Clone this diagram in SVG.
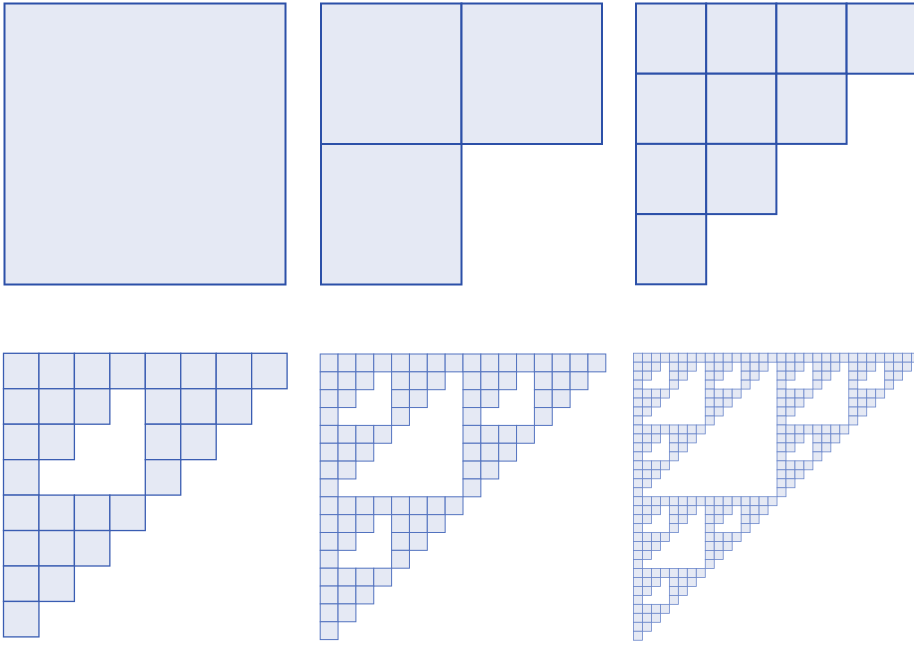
<svg xmlns="http://www.w3.org/2000/svg" xmlns:xlink="http://www.w3.org/1999/xlink" width="914" height="646" viewBox="0 0 914 646">
<style>
rect{fill:#e5e9f4;}
.a{stroke:#2c50a8;stroke-width:2;}
.b{stroke:#3a5db2;stroke-width:1.3;}
.c{stroke:#5272bf;stroke-width:1;}
.d{stroke:#6a86ca;stroke-width:0.8;}
</style>
<defs>
<g id="s4">
<rect x="0" y="0" width="35.45" height="35.45"/><rect x="35.45" y="0" width="35.45" height="35.45"/><rect x="70.9" y="0" width="35.45" height="35.45"/><rect x="106.35" y="0" width="35.45" height="35.45"/>
<rect x="0" y="35.45" width="35.45" height="35.45"/><rect x="35.45" y="35.45" width="35.45" height="35.45"/><rect x="70.9" y="35.45" width="35.45" height="35.45"/>
<rect x="0" y="70.9" width="35.45" height="35.45"/><rect x="35.45" y="70.9" width="35.45" height="35.45"/>
<rect x="0" y="106.35" width="35.45" height="35.45"/>
</g>
<g id="s5">
<rect x="0" y="0" width="17.85" height="17.85"/><rect x="17.85" y="0" width="17.85" height="17.85"/><rect x="35.7" y="0" width="17.85" height="17.85"/><rect x="53.55" y="0" width="17.85" height="17.85"/>
<rect x="0" y="17.85" width="17.85" height="17.85"/><rect x="17.85" y="17.85" width="17.85" height="17.85"/><rect x="35.7" y="17.85" width="17.85" height="17.85"/>
<rect x="0" y="35.7" width="17.85" height="17.85"/><rect x="17.85" y="35.7" width="17.85" height="17.85"/>
<rect x="0" y="53.55" width="17.85" height="17.85"/>
</g>
<g id="l5">
<use xlink:href="#s5"/><use xlink:href="#s5" x="71.4"/><use xlink:href="#s5" y="71.4"/>
</g>
<g id="s6">
<rect x="0" y="0" width="8.97" height="8.97"/><rect x="8.97" y="0" width="8.97" height="8.97"/><rect x="17.94" y="0" width="8.97" height="8.97"/><rect x="26.91" y="0" width="8.97" height="8.97"/>
<rect x="0" y="8.97" width="8.97" height="8.97"/><rect x="8.97" y="8.97" width="8.97" height="8.97"/><rect x="17.94" y="8.97" width="8.97" height="8.97"/>
<rect x="0" y="17.94" width="8.97" height="8.97"/><rect x="8.97" y="17.94" width="8.97" height="8.97"/>
<rect x="0" y="26.91" width="8.97" height="8.97"/>
</g>
<g id="l6a">
<use xlink:href="#s6"/><use xlink:href="#s6" x="35.88"/><use xlink:href="#s6" y="35.88"/>
</g>
<g id="l6b">
<use xlink:href="#l6a"/><use xlink:href="#l6a" x="71.76"/><use xlink:href="#l6a" y="71.76"/>
</g>
</defs>
<g id="panel1" class="a">
<rect x="4.5" y="3.5" width="281" height="281"/>
</g>
<g id="panel2" class="a">
<rect x="321" y="3.5" width="140.5" height="140.5"/>
<rect x="461.5" y="3.5" width="140.5" height="140.5"/>
<rect x="321" y="144" width="140.5" height="140.5"/>
</g>
<g id="panel3" class="a">
<rect x="636" y="3.5" width="70.2" height="70.2"/><rect x="706.2" y="3.5" width="70.2" height="70.2"/><rect x="776.4" y="3.5" width="70.2" height="70.2"/><rect x="846.6" y="3.5" width="70.2" height="70.2"/>
<rect x="636" y="73.7" width="70.2" height="70.2"/><rect x="706.2" y="73.7" width="70.2" height="70.2"/><rect x="776.4" y="73.7" width="70.2" height="70.2"/>
<rect x="636" y="143.9" width="70.2" height="70.2"/><rect x="706.2" y="143.9" width="70.2" height="70.2"/>
<rect x="636" y="214.1" width="70.2" height="70.2"/>
</g>
<g id="panel4" class="b" transform="translate(3.5,353.3)">
<use xlink:href="#s4"/><use xlink:href="#s4" x="141.8"/><use xlink:href="#s4" y="141.8"/>
</g>
<g id="panel5" class="c" transform="translate(320.2,354)">
<use xlink:href="#l5"/><use xlink:href="#l5" x="142.8"/><use xlink:href="#l5" y="142.8"/>
</g>
<g id="panel6" class="d" transform="translate(633.5,353.2)">
<use xlink:href="#l6b"/><use xlink:href="#l6b" x="143.52"/><use xlink:href="#l6b" y="143.52"/>
</g>
</svg>
